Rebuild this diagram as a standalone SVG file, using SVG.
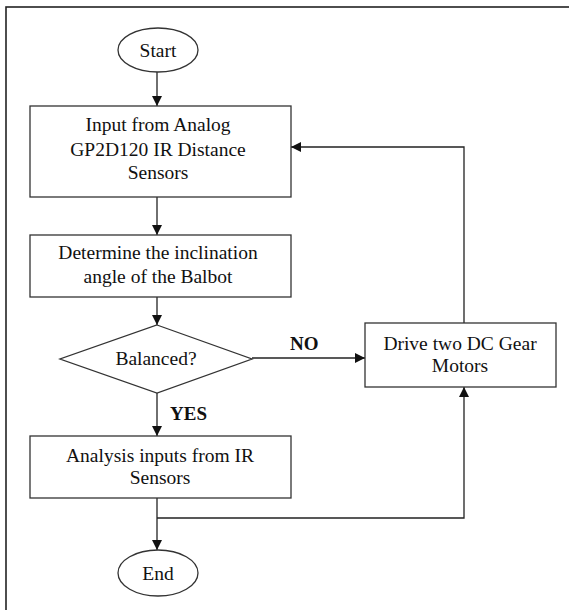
<svg xmlns="http://www.w3.org/2000/svg" width="569" height="610" viewBox="0 0 569 610">
<style>
.shape{fill:#fff;stroke:#333;stroke-width:1.3}
.conn{fill:none;stroke:#222;stroke-width:1.3}
.t{font-family:"Liberation Serif","Times New Roman",serif;font-size:19.5px;fill:#111;text-anchor:middle}
.lbl{font-family:"Liberation Serif","Times New Roman",serif;font-size:19px;font-weight:bold;fill:#111}
</style>
<defs>
<marker id="ah" viewBox="0 0 10 10" refX="10" refY="5" markerWidth="10" markerHeight="10" markerUnits="userSpaceOnUse" orient="auto">
<path d="M0,0 L10,5 L0,10 Z" fill="#111"/>
</marker>
</defs>
<rect width="569" height="610" fill="#fff"/>
<rect x="6" y="7" width="620" height="700" fill="none" stroke="#222" stroke-width="1.6"/>
<g id="connectors">
<line class="conn" x1="157" y1="72" x2="157" y2="106" marker-end="url(#ah)"/>
<line class="conn" x1="157" y1="197" x2="157" y2="235" marker-end="url(#ah)"/>
<line class="conn" x1="157" y1="297" x2="157" y2="325" marker-end="url(#ah)"/>
<line class="conn" x1="157" y1="393" x2="157" y2="436" marker-end="url(#ah)"/>
<line class="conn" x1="157" y1="498" x2="157" y2="550" marker-end="url(#ah)"/>
<line class="conn" x1="252" y1="358" x2="365" y2="358" marker-end="url(#ah)"/>
<polyline class="conn" points="157,518 464,518 464,387" marker-end="url(#ah)"/>
<polyline class="conn" points="464,323 464,147 291,147" marker-end="url(#ah)"/>
<text class="lbl" x="290" y="350">NO</text>
<text class="lbl" x="170" y="420">YES</text>
</g>
<g id="start">
<ellipse class="shape" cx="158" cy="50" rx="40" ry="22"/>
<text class="t" x="158" y="57">Start</text>
</g>
<g id="input">
<rect class="shape" x="30" y="106" width="261" height="91"/>
<text class="t" x="158" y="131">Input from Analog</text>
<text class="t" x="158" y="156">GP2D120 IR Distance</text>
<text class="t" x="158" y="179">Sensors</text>
</g>
<g id="determine">
<rect class="shape" x="30" y="235" width="261" height="62"/>
<text class="t" x="158" y="259">Determine the inclination</text>
<text class="t" x="158" y="283">angle of the Balbot</text>
</g>
<g id="balanced">
<polygon class="shape" points="157,325 252,359 157,393 60,359"/>
<text class="t" x="156" y="365">Balanced?</text>
</g>
<g id="analysis">
<rect class="shape" x="30" y="436" width="261" height="62"/>
<text class="t" x="160" y="462">Analysis inputs from IR</text>
<text class="t" x="160" y="484">Sensors</text>
</g>
<g id="end">
<ellipse class="shape" cx="158" cy="573" rx="40" ry="23"/>
<text class="t" x="158" y="580">End</text>
</g>
<g id="drive">
<rect class="shape" x="365" y="323" width="191" height="64"/>
<text class="t" x="460" y="350">Drive two DC Gear</text>
<text class="t" x="460" y="372">Motors</text>
</g>
</svg>
